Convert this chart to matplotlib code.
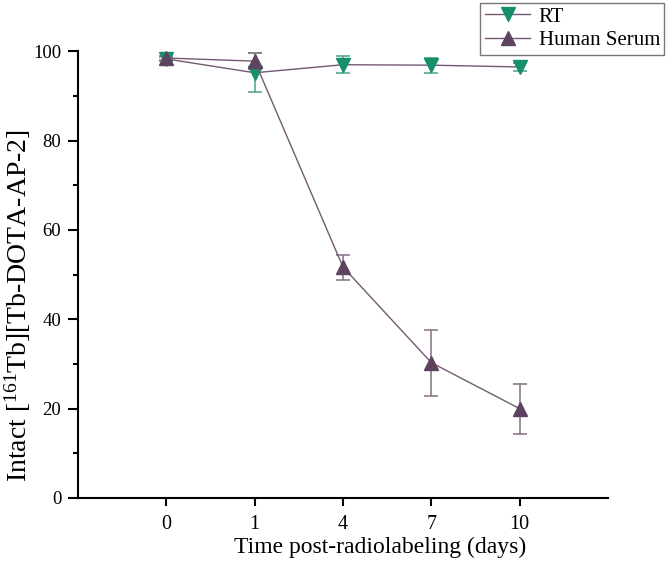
import numpy as np
import matplotlib
matplotlib.use("Agg")
import matplotlib.pyplot as plt
from matplotlib.ticker import MultipleLocator

plt.rcParams['font.family'] = ['Liberation Serif', 'DejaVu Serif']
plt.rcParams['mathtext.fontset'] = 'custom'
plt.rcParams['mathtext.rm'] = 'Liberation Serif'
plt.rcParams['mathtext.it'] = 'Liberation Serif:italic'

days = ['0', '1', '4', '7', '10']
rt = [98.3, 95.2, 97.0, 96.9, 96.5]
rt_err = [0.5, 4.4, 1.9, 1.7, 0.9]
serum = [98.5, 97.8, 51.7, 30.3, 20.0]
serum_err = [0.5, 1.8, 2.8, 7.4, 5.6]

x = np.arange(len(days))
line_col = '#735a72'

fig = plt.figure(figsize=(6.69, 5.69), dpi=100)
ax = fig.add_axes([0.1166, 0.1248, 0.7922, 0.785])

ax.errorbar(x, rt, yerr=rt_err, fmt='none', ecolor='#55a991', elinewidth=1.2,
            capsize=5, capthick=1.2, clip_on=False, zorder=2)
ax.errorbar(x, serum, yerr=serum_err, fmt='none', ecolor='#8e7a8c', elinewidth=1.2,
            capsize=5, capthick=1.2, clip_on=False, zorder=2)
ax.plot(x, rt, color=line_col, lw=1.0, marker='v', markersize=9.5,
        markerfacecolor='#16906c', markeredgecolor='#16906c',
        label='RT', clip_on=False, zorder=3)
ax.plot(x, serum, color=line_col, lw=1.0, marker='^', markersize=9.5,
        markerfacecolor='#5e4360', markeredgecolor='#5e4360',
        label='Human Serum', clip_on=False, zorder=4)

ax.set_xlim(-1, 5)
ax.set_ylim(0, 100)
ax.set_xticks(x)
ax.set_xticklabels(days)
ax.yaxis.set_major_locator(MultipleLocator(20))
ax.yaxis.set_minor_locator(MultipleLocator(10))

for s in ['top', 'right']:
    ax.spines[s].set_visible(False)
for s in ['left', 'bottom']:
    ax.spines[s].set_linewidth(1.5)

ax.tick_params(axis='y', which='major', direction='out', length=7, width=1.5,
               labelsize=13.5, pad=5)
ax.tick_params(axis='x', which='major', direction='out', length=6, width=1.5,
               labelsize=14.5, pad=6)
ax.tick_params(axis='y', which='minor', direction='out', length=3.6, width=1.5)

ax.set_xlabel('Time post-radiolabeling (days)', fontsize=17)
ax.xaxis.set_label_coords(0.57, -0.087)
ax.set_ylabel(r'Intact [$^{161}$Tb][Tb-DOTA-AP-2]', fontsize=20)
ax.yaxis.set_label_coords(-0.085, 0.43)

leg = ax.legend(loc='upper right', bbox_to_anchor=(0.993, 0.995),
                bbox_transform=fig.transFigure, fontsize=15, frameon=True,
                fancybox=False, edgecolor='#555555', handlelength=2.2,
                borderpad=0.2, labelspacing=0.2, handletextpad=0.4,
                borderaxespad=0)
leg.get_frame().set_linewidth(1.0)

fig.savefig('out.png', dpi=100)
